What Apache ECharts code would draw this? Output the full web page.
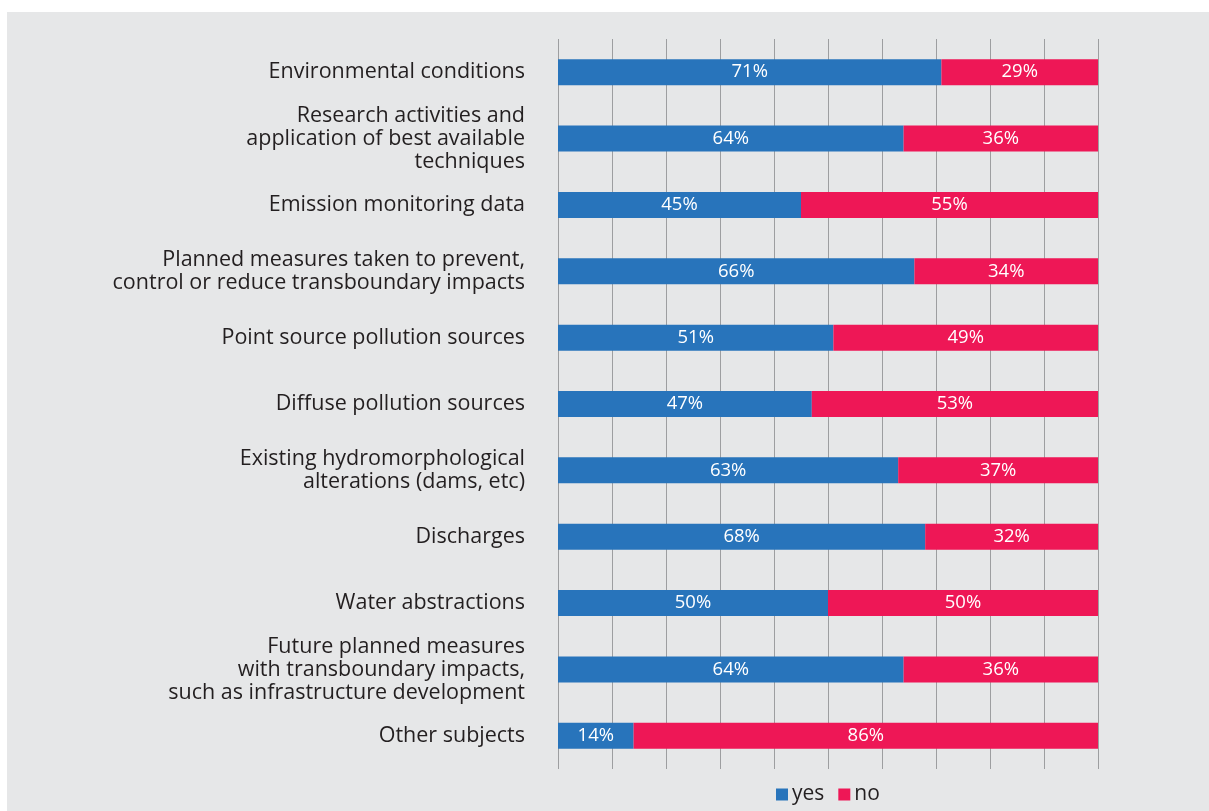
<!DOCTYPE html>
<html>
<head>
<meta charset="utf-8">
<script src="https://cdn.jsdelivr.net/npm/echarts@6/dist/echarts.min.js"></script>
<style>
  html, body { margin: 0; padding: 0; background: #ffffff; }
  #panel { position: absolute; left: 7px; top: 12px; right: 0; bottom: 0; background: #e6e7e8; }
  #chart { position: absolute; left: 0; top: 0; width: 1209px; height: 811px; }
</style>
</head>
<body>
<div id="panel"></div>
<div id="chart"></div>
<script>
// Subjects covered, listed top to bottom
const categories = [
  'Environmental conditions',
  'Research activities and\napplication of best available\ntechniques',
  'Emission monitoring data',
  'Planned measures taken to prevent,\ncontrol or reduce transboundary impacts',
  'Point source pollution sources',
  'Diffuse pollution sources',
  'Existing hydromorphological\nalterations (dams, etc)',
  'Discharges',
  'Water abstractions',
  'Future planned measures\nwith transboundary impacts,\nsuch as infrastructure development',
  'Other subjects'
];
const yesValues = [71, 64, 45, 66, 51, 47, 63, 68, 50, 64, 14];
const noValues  = [29, 36, 55, 34, 49, 53, 37, 32, 50, 36, 86];

const FONT = 'Open Sans';
const chart = echarts.init(document.getElementById('chart'), null, { renderer: 'canvas' });

const segLabel = {
  show: true,
  position: 'inside',
  color: '#ffffff',
  fontFamily: FONT,
  fontSize: 18.5,
  formatter: p => p.value + '%'
};

chart.setOption({
  backgroundColor: 'transparent',
  animation: false,
  grid: { left: 558, right: 111, top: 39, height: 730, containLabel: false },
  legend: {
    top: 779,
    left: 771,
    itemWidth: 12,
    itemHeight: 12,
    itemGap: 14,
    icon: 'rect',
    textStyle: { fontFamily: FONT, fontSize: 21, color: '#231f20', padding: [0, 0, 0, -1] },
    data: ['yes', 'no']
  },
  xAxis: {
    type: 'value',
    min: 0,
    max: 100,
    interval: 10,
    axisLine: { show: false },
    axisTick: { show: false },
    axisLabel: { show: false },
    splitLine: { show: true, lineStyle: { color: '#9d9ea0', width: 1 } }
  },
  yAxis: {
    type: 'category',
    inverse: true,
    data: categories,
    axisLine: { show: false },
    axisTick: { show: false },
    axisLabel: {
      margin: 33,
      align: 'right',
      fontFamily: FONT,
      fontSize: 21.5,
      lineHeight: 23,
      color: '#231f20'
    }
  },
  series: [
    {
      name: 'yes',
      type: 'bar',
      stack: 'total',
      barWidth: 26,
      itemStyle: { color: '#2874bb' },
      label: segLabel,
      data: yesValues
    },
    {
      name: 'no',
      type: 'bar',
      stack: 'total',
      barWidth: 26,
      itemStyle: { color: '#ee1756' },
      label: segLabel,
      data: noValues
    }
  ]
});
</script>
</body>
</html>
